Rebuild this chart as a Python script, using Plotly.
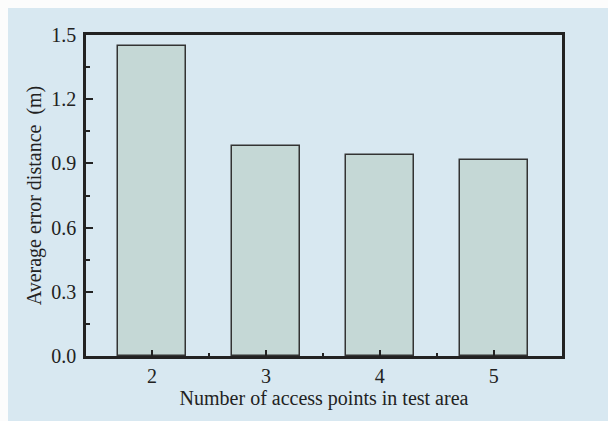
import plotly.graph_objects as go

# Localisation error versus number of access points
access_points = [2, 3, 4, 5]
avg_error_m = [1.45, 0.98, 0.94, 0.915]

y_ticks = [0.0, 0.3, 0.6, 0.9, 1.2, 1.5]
y_tick_labels = ["0.0", "0.3", "0.6", "0.9", "1.2", "1.5"]

W, H = 608, 421
# plot frame in pixels: left, right, top, bottom
FL, FR, FT, FB = 86, 562, 35, 356

BG = "#d8e8f1"
BAR = "#c5d8d6"
INK = "#222222"
EDGE = "#fcfcfc"
FONT = "Liberation Serif"
FS = 20

fig = go.Figure()
fig.add_trace(go.Bar(
    x=access_points,
    y=avg_error_m,
    width=0.6,
    marker=dict(color=BAR, line=dict(color="#333333", width=1.5)),
    hoverinfo="x+y",
))

# thin pale strips along the left and top edges of the panel
strip = 8
fig.add_shape(type="rect", xref="paper", yref="paper", layer="below",
              x0=0, x1=strip / W, y0=0, y1=1,
              fillcolor=EDGE, line=dict(width=0))
fig.add_shape(type="rect", xref="paper", yref="paper", layer="below",
              x0=0, x1=1, y0=1 - strip / H, y1=1,
              fillcolor=EDGE, line=dict(width=0))

fig.update_layout(
    width=W, height=H,
    margin=dict(l=0, r=0, t=0, b=0, pad=0),
    paper_bgcolor=BG,
    plot_bgcolor=BG,
    showlegend=False,
    font=dict(family=FONT, size=FS, color=INK),
    bargap=0,
)

fig.update_xaxes(
    domain=[FL / W, FR / W],
    range=[1.42, 5.6],
    tickvals=access_points,
    ticks="inside", ticklen=6, tickwidth=2, tickcolor=INK,
    minor=dict(tickvals=[2.5, 3.5, 4.5], ticks="inside", ticklen=3, tickwidth=2, tickcolor=INK),
    showline=True, linewidth=2.5, linecolor=INK, mirror=True,
    showgrid=False, zeroline=False,
    automargin=False,
    tickfont=dict(family=FONT, size=FS, color=INK),
    title=dict(text="Number of access points in test area", standoff=4,
               font=dict(family=FONT, size=FS, color=INK)),
)

fig.update_yaxes(
    domain=[1 - FB / H, 1 - FT / H],
    range=[0, 1.5],
    tickvals=y_ticks, ticktext=y_tick_labels,
    ticks="inside", ticklen=7, tickwidth=2, tickcolor=INK,
    minor=dict(tickvals=[0.15, 0.45, 0.75, 1.05, 1.35], ticks="inside", ticklen=4,
               tickwidth=2, tickcolor=INK),
    showline=True, linewidth=2.5, linecolor=INK, mirror=True,
    showgrid=False, zeroline=False,
    automargin=False,
    ticklabelstandoff=3,
    tickfont=dict(family=FONT, size=FS, color=INK),
    title=dict(text="Average error distance  (m)", standoff=5,
               font=dict(family=FONT, size=FS, color=INK)),
)

fig.write_html("out.html")
